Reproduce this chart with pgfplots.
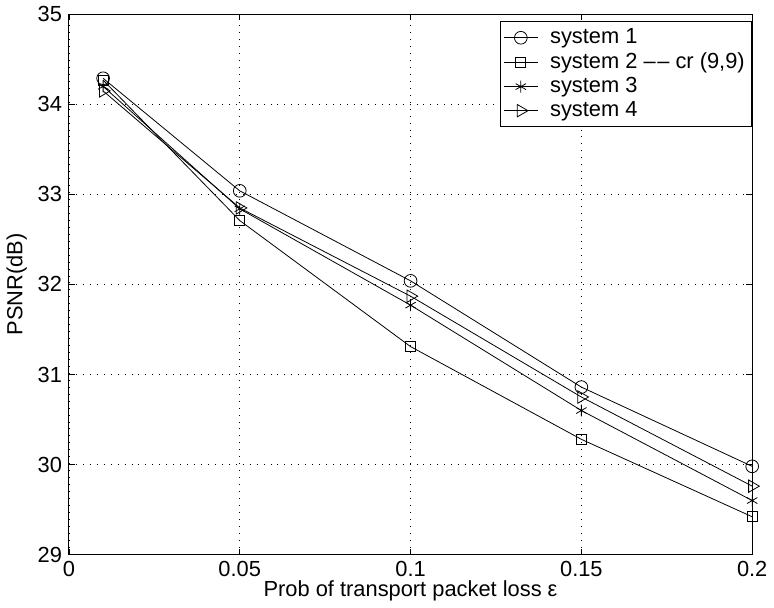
\documentclass[border=0pt]{standalone}
\usepackage{fontspec}
\setmainfont{Liberation Sans}
\usepackage{pgfplots}
\pgfplotsset{compat=1.18}
\begin{document}
\begin{tikzpicture}
\begin{axis}[
  scale only axis, width=344pt, height=272pt,
  xmin=0, xmax=0.2, ymin=29, ymax=35,
  xtick={0,0.05,0.1,0.15,0.2}, xticklabels={0,0.05,0.1,0.15,0.2},
  ytick={29,30,31,32,33,34,35},
  /pgf/number format/assume math mode=true,
  ticklabel style={font=\fontsize{11}{12}\selectfont},
  label style={font=\fontsize{11}{12}\selectfont},
  xlabel={Prob of transport packet loss ε}, ylabel={PSNR(dB)},
  xlabel style={yshift=5pt}, ylabel style={yshift=-1.5pt},
  grid=major, major grid style={black, line width=0.3pt, dash pattern=on 0.5pt off 3pt},
  tick align=inside, major tick length=3pt, axis line style={line width=0.5pt},
  every tick/.style={black, line width=0.4pt},
  legend style={at={(1,1)}, anchor=north east, yshift=-3.5pt, draw=black, line width=0.5pt,
    font=\fontsize{11}{12.5}\selectfont, cells={anchor=west}, inner sep=1.5pt, row sep=-1pt,
    column sep=4pt},
  legend image post style={line width=0.4pt},
  every axis plot/.append style={black, line width=0.4pt},
]
\addplot[mark=o, mark size=3.2pt, mark options={line width=0.4pt}] coordinates {
(0.01,34.29) (0.05,33.04) (0.1,32.04) (0.15,30.86) (0.2,29.98)};
\addplot[mark=square, mark size=2.5pt, mark options={line width=0.4pt}] coordinates {
(0.01,34.27) (0.05,32.71) (0.1,31.31) (0.15,30.28) (0.2,29.42)};
\addplot[mark=asterisk, mark size=3pt, mark options={line width=0.4pt}] coordinates {
(0.01,34.20) (0.05,32.84) (0.1,31.77) (0.15,30.60) (0.2,29.60)};
\addplot[mark=triangle, mark size=3.6pt, mark options={rotate=-90, line width=0.4pt}] coordinates {
(0.01,34.15) (0.05,32.85) (0.1,31.87) (0.15,30.75) (0.2,29.76)};
\legend{system 1, system 2 \textendash\kern0.8pt\textendash\ cr (9{,}9), system 3, system 4}
\end{axis}
\end{tikzpicture}
\end{document}
